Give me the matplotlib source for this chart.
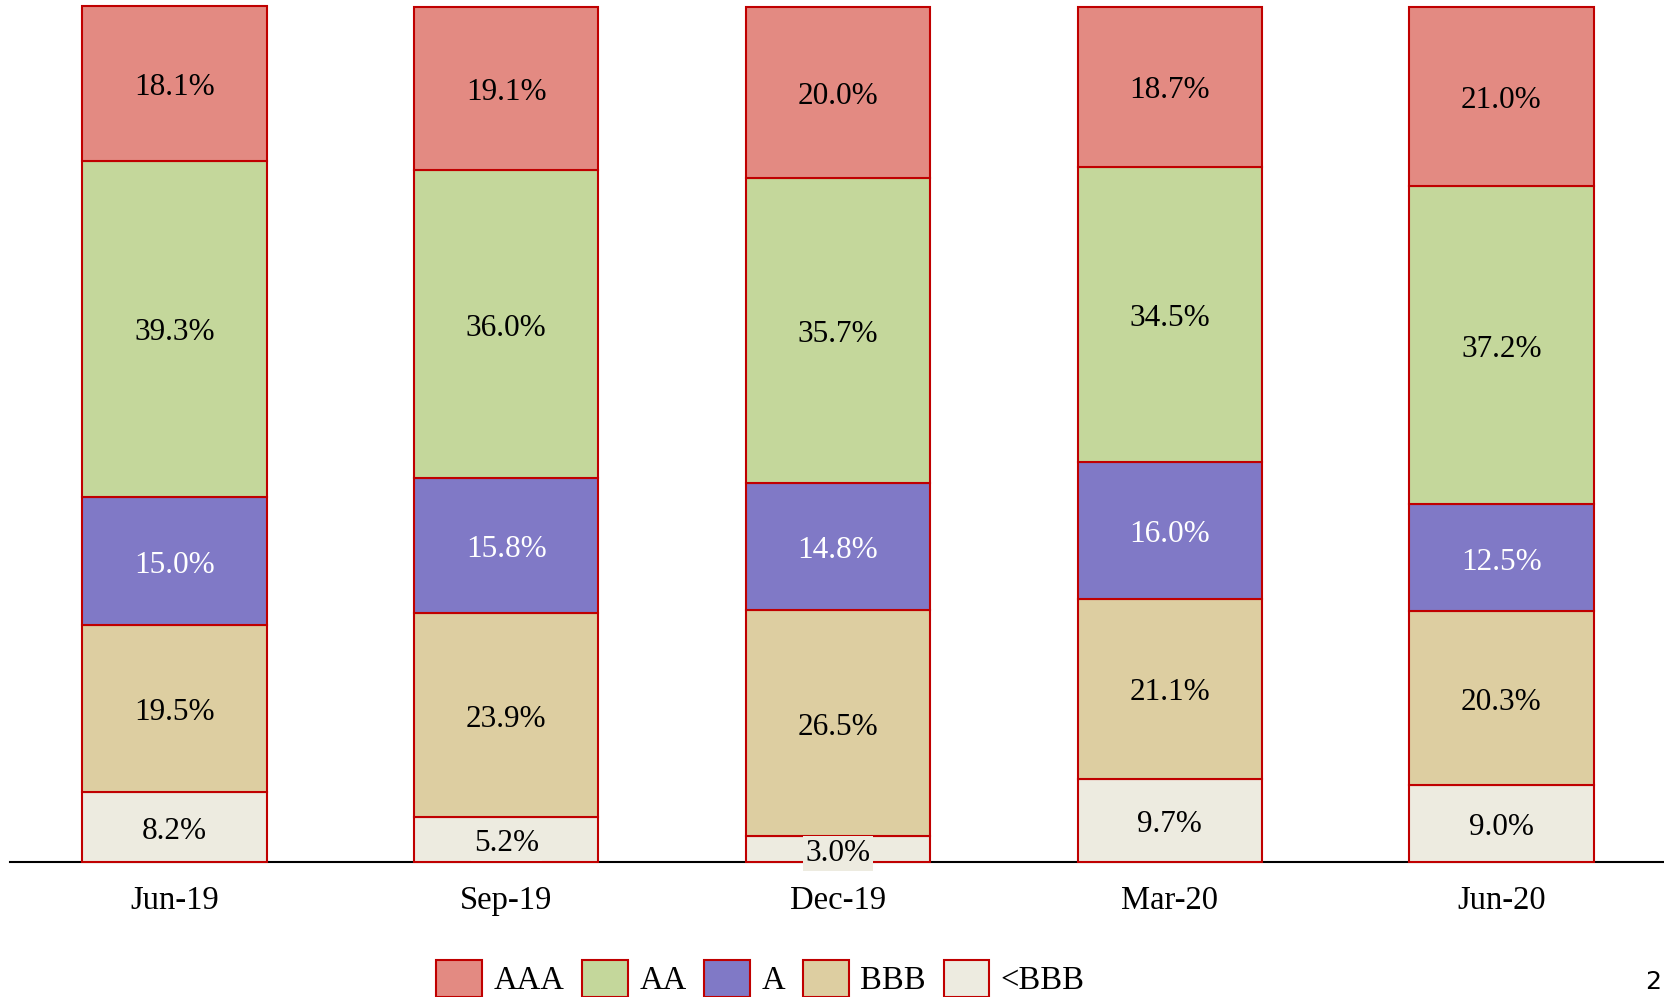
import numpy as np
import matplotlib.pyplot as plt
from matplotlib.patches import Patch

periods = ["Jun-19", "Sep-19", "Dec-19", "Mar-20", "Jun-20"]
ratings = ["AAA", "AA", "A", "BBB", "<BBB"]
aaa = [18.1, 19.1, 20.0, 18.7, 21.0]
aa = [39.3, 36.0, 35.7, 34.5, 37.2]
a = [15.0, 15.8, 14.8, 16.0, 12.5]
bbb = [19.5, 23.9, 26.5, 21.1, 20.3]
below_bbb = [8.2, 5.2, 3.0, 9.7, 9.0]

colors = {"AAA": "#E38A82", "AA": "#C4D79B", "A": "#8079C6",
          "BBB": "#DDCEA1", "<BBB": "#EDEBE0"}
text_colors = {"AAA": "black", "AA": "black", "A": "white",
               "BBB": "black", "<BBB": "black"}
edge = "#C00000"

plt.rcParams["font.family"] = ["Liberation Serif", "DejaVu Serif"]

fig = plt.figure(figsize=(16.64, 9.97), dpi=100)
ax = fig.add_axes([0.006, 0.1355, 0.994, 0.8585])

x = np.arange(len(periods))
# stack from bottom: <BBB, BBB, A, AA, AAA
stack = [("<BBB", below_bbb), ("BBB", bbb), ("A", a), ("AA", aa), ("AAA", aaa)]
bottom = np.zeros(len(periods))
for name, vals in stack:
    vals = np.array(vals)
    ax.bar(x, vals, bottom=bottom, width=0.555, color=colors[name],
           edgecolor=edge, linewidth=1.5, zorder=2, clip_on=False)
    for xi, b, v in zip(x, bottom, vals):
        ax.annotate(f"{v:.1f}%", (xi, b + v / 2), xytext=(0, -3),
                    textcoords="offset points", ha="center", va="center",
                    fontsize=22.5, color=text_colors[name], zorder=5,
                    bbox=dict(facecolor=colors[name], edgecolor="none", pad=2))
    bottom += vals

ax.set_xlim(-0.496, 4.49)
ax.set_ylim(0, 100.1)
ax.set_xticks(x)
ax.set_xticklabels(periods, fontsize=23.5)
ax.tick_params(axis="x", length=0, pad=17)
ax.set_yticks([])
for side in ["top", "right", "left"]:
    ax.spines[side].set_visible(False)
ax.spines["bottom"].set_linewidth(1.5)
ax.spines["bottom"].set_zorder(1)

handles = [Patch(facecolor=colors[r], edgecolor=edge, linewidth=1.5) for r in ratings]
fig.legend(handles, ratings, loc="center", bbox_to_anchor=(0.457, 0.0185),
           ncol=5, frameon=False, fontsize=23.5, handlelength=1.4,
           handleheight=1.4, handletextpad=0.35, columnspacing=0.55)

fig.text(0.9935, 0.015, "2", ha="center", va="center", fontsize=18,
         family="DejaVu Sans")

fig.savefig("out.png", dpi=100)
